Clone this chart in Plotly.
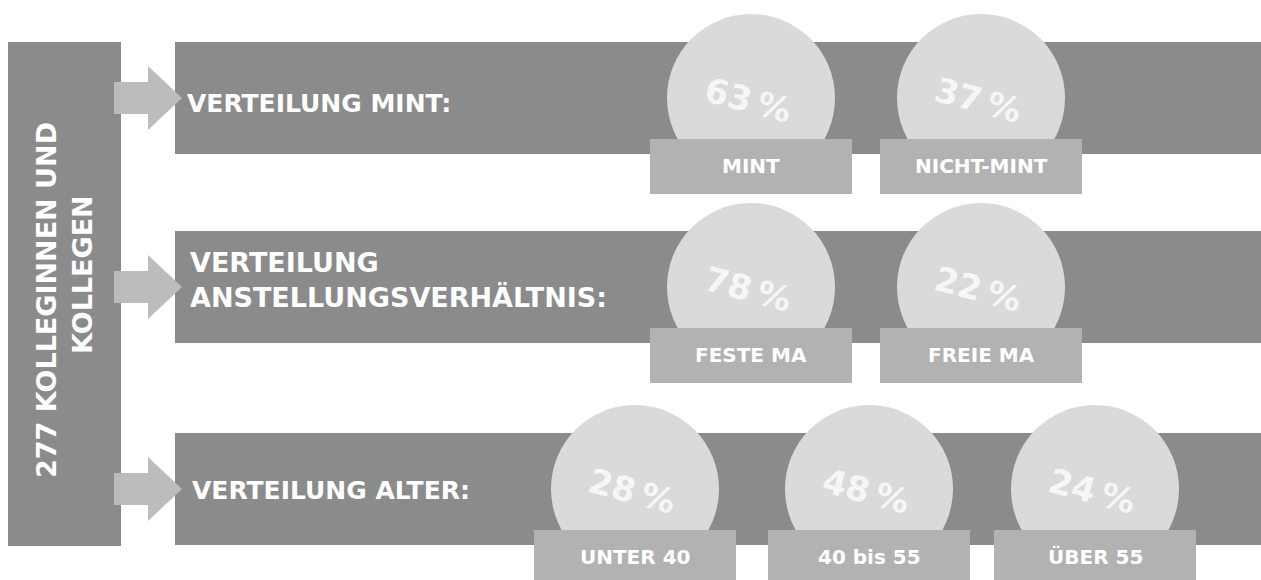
import plotly.graph_objects as go

# ---- data ----
total_label = ["277 KOLLEGINNEN UND", "KOLLEGEN"]
row_titles = ["VERTEILUNG MINT:", "VERTEILUNG<br>ANSTELLUNGSVERHÄLTNIS:", "VERTEILUNG ALTER:"]
mint_categories = ["MINT", "NICHT-MINT"]
mint_shares = [63, 37]
contract_categories = ["FESTE MA", "FREIE MA"]
contract_shares = [78, 22]
age_categories = ["UNTER 40", "40 bis 55", "ÜBER 55"]
age_shares = [28, 48, 24]

rows = [
    (mint_categories, mint_shares),
    (contract_categories, contract_shares),
    (age_categories, age_shares),
]

# ---- layout constants ----
W, H = 1261, 580
FONT = "DejaVu Sans"
DARK = "#8b8b8b"
CIRCLE = "#dadada"
TAG = "#b2b2b2"
ARROW = "#bcbcbc"
WHITE = "#ffffff"

row_y = [98, 287, 489]          # vertical centre of each band
band_half = 56
band_x0 = 175
bubble_r = 84
bubble_x = [[751, 981], [751, 981], [635, 869, 1095]]
tag_half_w = 101
tag_h = 55
title_x = [185, 188, 190]
title_y = [103, 280, 490]
title_size = [25, 27, 25]
pct_angle = 15

shapes = []
annotations = []

# left vertical block
shapes.append(dict(type="rect", x0=8, x1=121, y0=42, y1=546,
                   fillcolor=DARK, line_width=0, layer="below"))
annotations.append(dict(x=46, y=300, text=total_label[0], textangle=-90,
                        showarrow=False, xanchor="center", yanchor="middle",
                        font=dict(family=FONT, size=27, color=WHITE, weight="bold")))
annotations.append(dict(x=82, y=275, text=total_label[1], textangle=-90,
                        showarrow=False, xanchor="center", yanchor="middle",
                        font=dict(family=FONT, size=27, color=WHITE, weight="bold")))

for i, (cats, shares) in enumerate(rows):
    cy = row_y[i]
    # band
    shapes.append(dict(type="rect", x0=band_x0, x1=W + 5, y0=cy - band_half, y1=cy + band_half,
                       fillcolor=DARK, line_width=0, layer="below"))
    # arrow from the block into the band
    path = (f"M 114 {cy - 16} L 148 {cy - 16} L 148 {cy - 32} L 182 {cy} "
            f"L 148 {cy + 32} L 148 {cy + 16} L 114 {cy + 16} Z")
    shapes.append(dict(type="path", path=path, fillcolor=ARROW, line_width=0, layer="above"))
    # title
    annotations.append(dict(x=title_x[i], y=title_y[i], text=row_titles[i], showarrow=False,
                            xanchor="left", yanchor="middle", align="left",
                            font=dict(family=FONT, size=title_size[i], color=WHITE, weight="bold")))
    for j, (cat, share) in enumerate(zip(cats, shares)):
        bx = bubble_x[i][j]
        shapes.append(dict(type="circle", x0=bx - bubble_r, x1=bx + bubble_r,
                           y0=cy - bubble_r, y1=cy + bubble_r,
                           fillcolor=CIRCLE, line_width=0, layer="above"))
        tag_top = cy + 41
        tag_bottom = tag_top + tag_h if i < 2 else H + 5
        shapes.append(dict(type="rect", x0=bx - tag_half_w, x1=bx + tag_half_w,
                           y0=tag_top, y1=tag_bottom,
                           fillcolor=TAG, line_width=0, layer="above"))
        annotations.append(dict(x=bx, y=tag_top + 27, text=cat, showarrow=False,
                                xanchor="center", yanchor="middle",
                                font=dict(family=FONT, size=20, color=WHITE, weight="bold")))
        annotations.append(dict(x=bx - 3, y=cy + 2, text=f"{share}\u2009%", showarrow=False,
                                textangle=pct_angle, xanchor="center", yanchor="middle",
                                font=dict(family=FONT, size=34, color="#f6f6f6", weight="bold")))

fig = go.Figure()
fig.add_trace(go.Scatter(x=[0], y=[0], mode="markers", marker=dict(opacity=0),
                         hoverinfo="skip", showlegend=False))
fig.update_layout(
    width=W, height=H, margin=dict(l=0, r=0, t=0, b=0),
    paper_bgcolor="white", plot_bgcolor="white",
    xaxis=dict(range=[0, W], visible=False, fixedrange=True),
    yaxis=dict(range=[H, 0], visible=False, fixedrange=True),
    shapes=shapes, annotations=annotations, showlegend=False,
)
fig.write_html("out.html")
